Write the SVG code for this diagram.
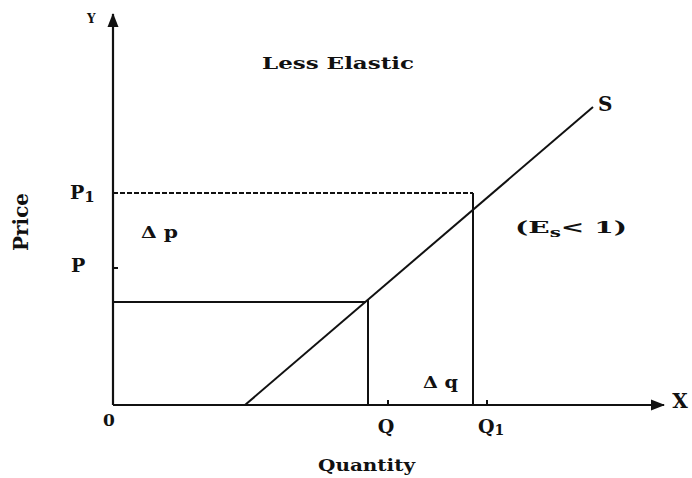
<svg xmlns="http://www.w3.org/2000/svg" width="692" height="478" viewBox="0 0 692 478">
<style>
.ax{stroke:#111;stroke-width:2.2;fill:none}
.ln{stroke:#111;stroke-width:2;fill:none}
.dash{stroke:#111;stroke-width:1.8;stroke-dasharray:5 2;fill:none}
.t{font-family:"DejaVu Serif","Liberation Serif",serif;font-weight:bold;fill:#111}
</style>
<defs>
<marker id="ah" markerWidth="14" markerHeight="14" refX="13" refY="7" orient="auto" markerUnits="userSpaceOnUse" viewBox="0 0 14 14">
<path d="M0,1.5 L14,7 L0,12.5 Z" fill="#111"/>
</marker>
</defs>
<rect width="692" height="478" fill="#fff"/>
<g id="connectors">
<line class="ax" x1="113" y1="405" x2="113" y2="14" marker-end="url(#ah)"/>
<line class="ax" x1="113" y1="405" x2="664" y2="405" marker-end="url(#ah)"/>
<line id="supply" class="ln" x1="245" y1="405" x2="593" y2="107"/>
<line class="dash" x1="113" y1="193" x2="473" y2="193"/>
<line class="ln" x1="473" y1="193" x2="473" y2="405"/>
<line class="ln" x1="113" y1="302" x2="366" y2="302"/>
<line class="ln" x1="368" y1="300" x2="368" y2="405"/>
<line class="ln" x1="113" y1="268" x2="118" y2="268"/>
<line class="ln" x1="388" y1="405" x2="388" y2="400"/>
<line class="ln" x1="487" y1="405" x2="487" y2="400"/>
</g>
<g id="labels">
<text class="t" x="87" y="23" font-size="12">Y</text>
<text class="t" x="680" y="408" font-size="20" text-anchor="middle">X</text>
<text class="t" x="262" y="69" font-size="17" textLength="152" lengthAdjust="spacingAndGlyphs">Less Elastic</text>
<text class="t" x="598" y="111" font-size="20">S</text>
<text class="t" x="70" y="199" font-size="19">P<tspan font-size="15" dy="3">1</tspan></text>
<text class="t" x="71" y="272" font-size="19">P</text>
<text class="t" x="141" y="238" font-size="16" textLength="37" lengthAdjust="spacingAndGlyphs">Δ p</text>
<text class="t" x="515" y="233" font-size="17" textLength="112" lengthAdjust="spacingAndGlyphs">(E<tspan font-size="12" dy="4">s</tspan><tspan dy="-4">&lt;  1)</tspan></text>
<text class="t" x="423" y="388" font-size="16" textLength="35" lengthAdjust="spacingAndGlyphs">Δ q</text>
<text class="t" x="109" y="426" font-size="17" text-anchor="middle">0</text>
<text class="t" x="386" y="433" font-size="19" text-anchor="middle">Q</text>
<text class="t" x="478" y="433" font-size="19">Q<tspan font-size="14" dy="2">1</tspan></text>
<text class="t" x="318" y="471" font-size="17" textLength="97" lengthAdjust="spacingAndGlyphs">Quantity</text>
<text class="t" x="0" y="0" font-size="21" text-anchor="middle" textLength="58" lengthAdjust="spacingAndGlyphs" transform="translate(28,222) rotate(-90)">Price</text>
</g>
</svg>
